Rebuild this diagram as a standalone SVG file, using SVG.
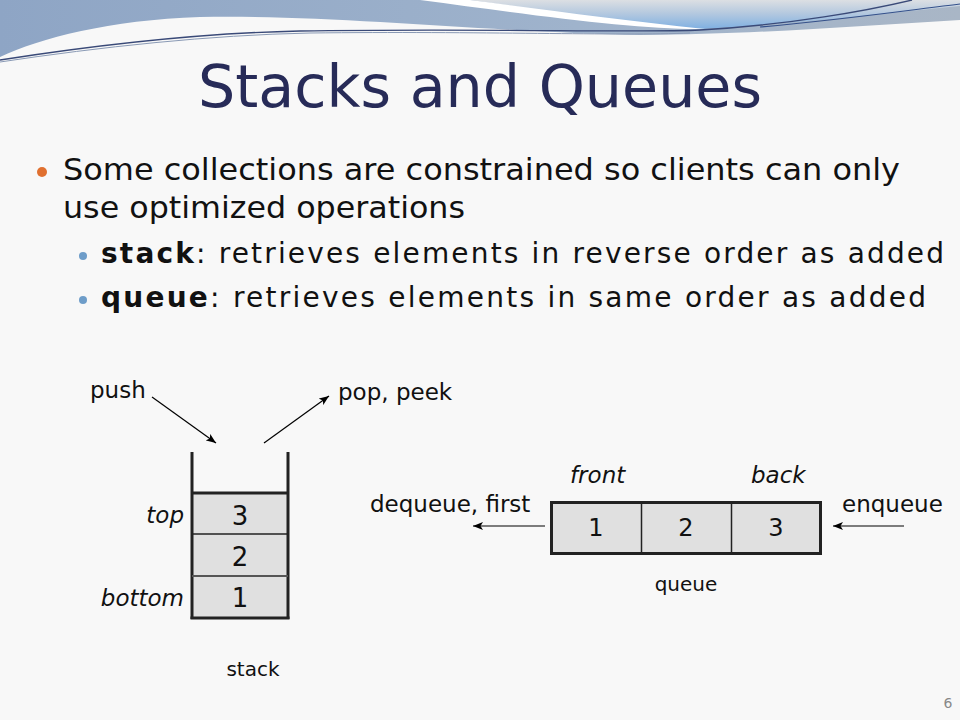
<svg xmlns="http://www.w3.org/2000/svg" width="960" height="720" viewBox="0 0 960 720">
<defs>
<linearGradient id="band" x1="0" y1="0" x2="1" y2="0">
<stop offset="0" stop-color="#8ea5c5"/>
<stop offset="0.6" stop-color="#9fb3cc"/>
<stop offset="1" stop-color="#a9b6c6"/>
</linearGradient>
<linearGradient id="sky" x1="0" y1="0" x2="0" y2="1">
<stop offset="0" stop-color="#dcdfe3"/>
<stop offset="0.45" stop-color="#b5c9df"/>
<stop offset="1" stop-color="#7fb0e2"/>
</linearGradient>
<marker id="ah" viewBox="0 0 10 8" refX="10" refY="4" markerWidth="10" markerHeight="8" markerUnits="userSpaceOnUse" orient="auto">
<path d="M0,0 L10,4 L0,8 L2.5,4 Z" fill="#000"/>
</marker>
<style>
.title{font-family:"DejaVu Sans",Verdana,sans-serif;font-size:58px;fill:#272b58}
.b1{font-family:"DejaVu Sans",Verdana,sans-serif;font-size:30px;fill:#111}
.b2{font-family:"DejaVu Sans",Verdana,sans-serif;font-size:28px;fill:#111}
.lbl{font-family:"DejaVu Sans",Tahoma,sans-serif;font-size:23px;fill:#111}
.it{font-style:italic}
.num{font-family:"DejaVu Sans",Tahoma,sans-serif;fill:#111;text-anchor:middle}
.cap{font-family:"DejaVu Sans",Tahoma,sans-serif;font-size:20px;fill:#111;text-anchor:middle}
.cell{fill:#e0e0e0;stroke:none}
.thick{stroke:#222;stroke-width:3;fill:none}
.thin{stroke:#222;stroke-width:1.5;fill:none}
.arrow{stroke:#000;stroke-width:1.2;fill:none;marker-end:url(#ah)}
</style>
</defs>
<rect x="0" y="0" width="960" height="720" fill="#f8f8f8"/>
<!-- top decoration -->
<path d="M0,0 H960 V20 C860,26 760,34 640,35 C520,34 330,14 200,17 C110,20 40,38 0,57 Z" fill="url(#band)"/>
<path d="M470,0 H960 V6 C880,14 790,24 700,29 C620,22 540,10 470,0 Z" fill="url(#sky)"/>
<path d="M420,0 H470 C540,9 620,20 705,29 C640,30 540,16 420,0 Z" fill="#ffffff"/>
<path d="M0,60 C90,46 200,33 300,31 C480,28 640,33 700,30 C790,25 870,10 912,0" fill="none" stroke="#3a4a78" stroke-width="1.3"/>
<path d="M0,62 C100,47 210,35 310,33 C480,31 620,36 690,33" fill="none" stroke="#8a9ab5" stroke-width="1"/>
<path d="M760,27 C840,20 910,10 960,4" fill="none" stroke="#34508a" stroke-width="1.2"/>
<!-- title and bullets -->
<text class="title" x="198" y="107" textLength="564" lengthAdjust="spacingAndGlyphs">Stacks and Queues</text>
<circle cx="42" cy="172" r="5" fill="#e07030"/>
<text class="b1" x="63" y="180" textLength="837" lengthAdjust="spacingAndGlyphs">Some collections are constrained so clients can only</text>
<text class="b1" x="63" y="218" textLength="402" lengthAdjust="spacingAndGlyphs">use optimized operations</text>
<circle cx="83" cy="256" r="4" fill="#6e9dc9"/>
<text class="b2" x="101" y="263" textLength="843" lengthAdjust="spacing"><tspan font-weight="bold">stack</tspan>: retrieves elements in reverse order as added</text>
<circle cx="83" cy="300" r="4" fill="#6e9dc9"/>
<text class="b2" x="101" y="307" textLength="825" lengthAdjust="spacing"><tspan font-weight="bold">queue</tspan>: retrieves elements in same order as added</text>
<!-- stack node -->
<g id="stack">
<rect class="cell" x="192" y="493" width="96" height="125"/>
<line class="thick" x1="192" y1="452" x2="192" y2="619"/>
<line class="thick" x1="288" y1="452" x2="288" y2="619"/>
<line class="thick" x1="192" y1="493" x2="288" y2="493"/>
<line class="thin" x1="192" y1="534" x2="288" y2="534"/>
<line x1="192" y1="576" x2="288" y2="576" stroke="#555" stroke-width="2"/>
<line class="thick" x1="190.5" y1="618" x2="289.5" y2="618"/>
<text class="num" x="240" y="525" font-size="26">3</text>
<text class="num" x="240" y="566" font-size="26">2</text>
<text class="num" x="240" y="607" font-size="26">1</text>
<text class="lbl it" x="184" y="523" text-anchor="end">top</text>
<text class="lbl it" x="184" y="606" text-anchor="end">bottom</text>
<text class="cap" x="253" y="676">stack</text>
</g>
<!-- queue node -->
<g id="queue">
<rect x="551.5" y="502.5" width="269" height="51" fill="#e0e0e0" stroke="#222" stroke-width="3"/>
<line class="thin" x1="641.5" y1="502" x2="641.5" y2="554"/>
<line class="thin" x1="731.5" y1="502" x2="731.5" y2="554"/>
<text class="num" x="596" y="536" font-size="24">1</text>
<text class="num" x="686" y="536" font-size="24">2</text>
<text class="num" x="776" y="536" font-size="24">3</text>
<text class="lbl it" x="570" y="483">front</text>
<text class="lbl it" x="751" y="483">back</text>
<text class="cap" x="686" y="591">queue</text>
</g>
<g id="labels">
<text class="lbl" x="90" y="398">push</text>
<text class="lbl" x="338" y="400">pop, peek</text>
<text class="lbl" x="370" y="512">dequeue, first</text>
<text class="lbl" x="842" y="512">enqueue</text>
</g>
<g id="connectors">
<line class="arrow" x1="152" y1="397" x2="216" y2="443"/>
<line class="arrow" x1="264" y1="443" x2="329" y2="396"/>
<line class="arrow" x1="545" y1="526" x2="473" y2="526"/>
<line class="arrow" x1="904" y1="526" x2="833" y2="526"/>
</g>
<text x="948" y="708" font-family="DejaVu Sans, sans-serif" font-size="14" fill="#888" text-anchor="middle">6</text>
</svg>
